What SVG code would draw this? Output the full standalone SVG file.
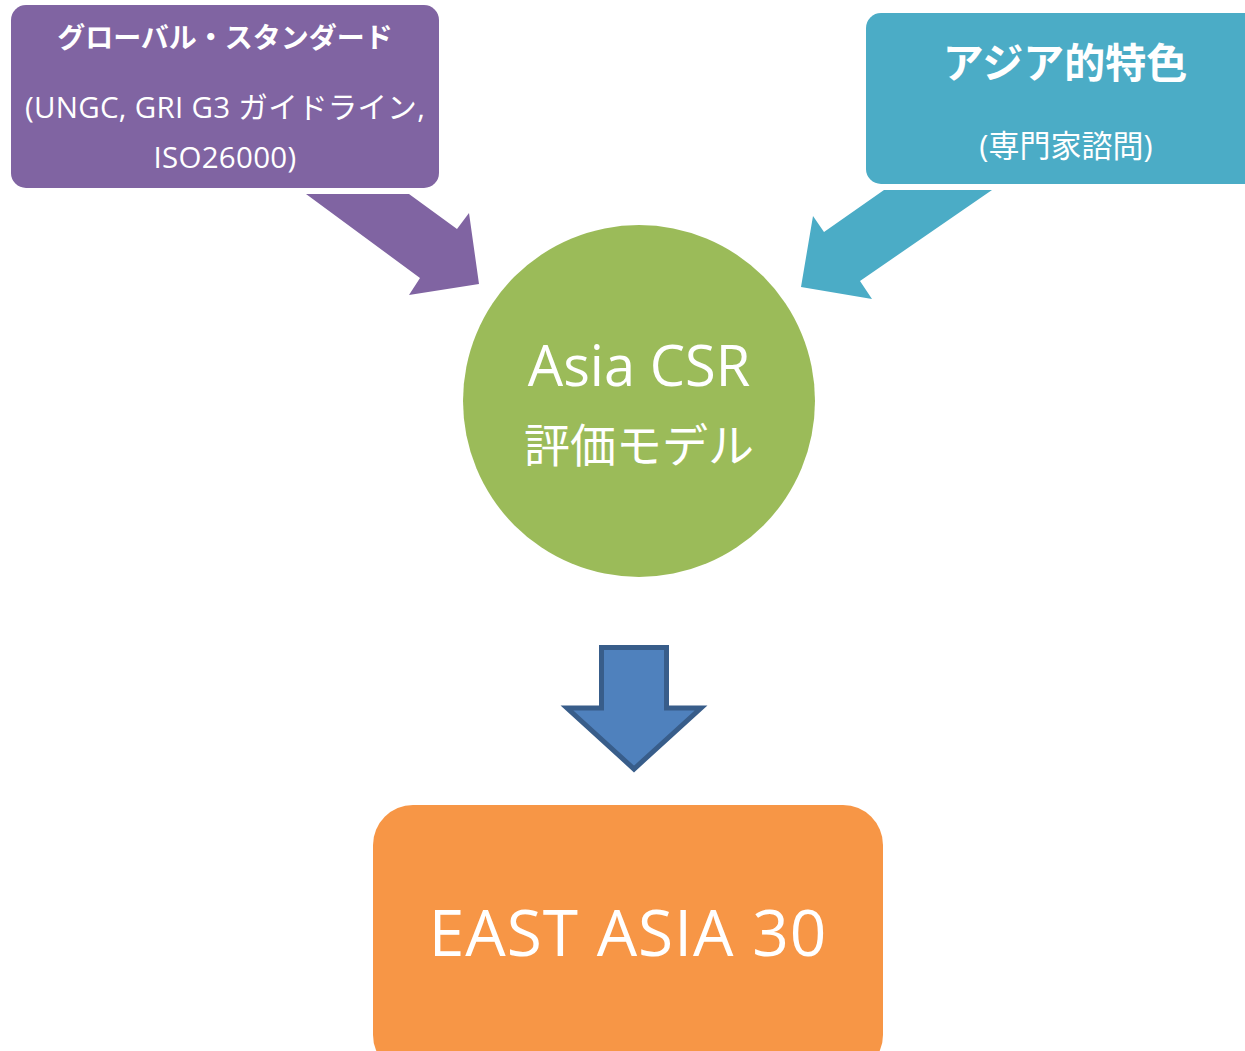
<svg xmlns="http://www.w3.org/2000/svg" width="1245" height="1051" viewBox="0 0 1245 1051">
<style>
text{fill:#fff;font-family:"Open Sans","Noto Sans","Noto Sans CJK JP",sans-serif;text-anchor:middle}
.b{font-weight:bold}
</style>
<rect width="1245" height="1051" fill="#fff"/>
<g id="connectors">
<path id="arrow-purple" d="M306,194 L409,194 L457,229 L469,213 L479,284 L409,295 L420,278 Z" fill="#8064A2"/>
<path id="arrow-cyan" d="M884,190 L992,190 L860,281 L872,299 L801,287 L813,216 L824,232 Z" fill="#4BACC6"/>
<path id="arrow-down" d="M601.5,647.5 L666.5,647.5 L666.5,708 L701,708 L634,769 L567,708 L601.5,708 Z" fill="#4F81BD" stroke="#385D8A" stroke-width="5" stroke-linejoin="miter"/>
</g>
<g id="node-global">
<rect x="11" y="5" width="428" height="183" rx="15" fill="#8064A2"/>
<text class="b" x="225" y="48" font-size="28">グローバル・スタンダード</text>
<text x="225" y="118" font-size="29.5" letter-spacing="0.3">(UNGC, GRI G3 ガイドライン,</text>
<text x="225" y="168" font-size="29.5" letter-spacing="0.3">ISO26000)</text>
</g>
<g id="node-asia">
<rect x="866" y="13" width="400" height="171" rx="15" fill="#4BACC6"/>
<text class="b" x="1065" y="78" font-size="41">アジア的特色</text>
<text x="1066" y="157" font-size="31">(専門家諮問)</text>
</g>
<g id="node-model">
<circle cx="639" cy="401" r="176" fill="#9BBB59"/>
<text x="639" y="386" font-size="56">Asia CSR</text>
<text x="639" y="462" font-size="46">評価モデル</text>
</g>
<g id="node-east">
<rect x="373" y="805" width="510" height="270" rx="40" fill="#F79646"/>
<text x="628" y="956" font-size="64" letter-spacing="1">EAST ASIA 30</text>
</g>
</svg>
